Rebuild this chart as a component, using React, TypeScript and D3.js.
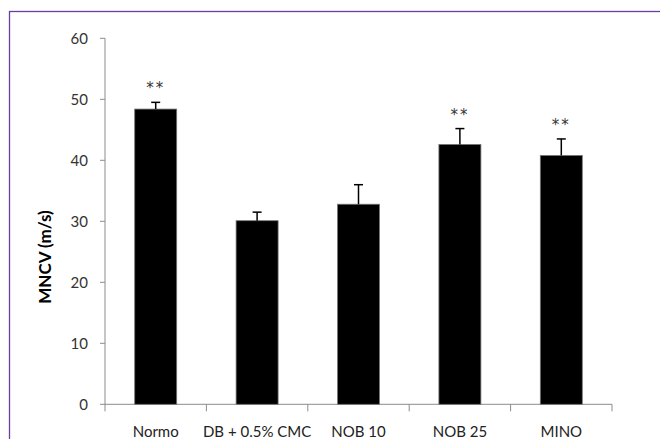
import React from "react";
import * as d3 from "d3";

const categories = ["Normo", "DB + 0.5% CMC", "NOB 10", "NOB 25", "MINO"];
const means = [48.4, 30.1, 32.8, 42.6, 40.8];
const errors = [1.1, 1.4, 3.2, 2.6, 2.7];
const significance = ["**", "", "", "**", "**"];
const yTicks = [0, 10, 20, 30, 40, 50, 60];

const W = 660;
const H = 439;
const left = 105;
const right = 612;
const top = 38.3;
const bottom = 404.3;
const font = "Lato, 'Open Sans', sans-serif";

export default function App() {
  const y = d3.scaleLinear().domain([0, 60]).range([bottom, top]);
  const band = d3.scaleBand<string>().domain(categories).range([left, right]);
  const axisColor = "#8c8c8c";
  return (
    <svg width={W} height={H} style={{ position: "absolute", left: 0, top: 0 }}>
      <rect x={0} y={0} width={W} height={H} fill="#fff" />
      <rect x={9.5} y={11.5} width={W + 20} height={H + 20} fill="none" stroke="#6a3fa0" strokeWidth={1.3} />
      {/* y axis */}
      <line x1={left} x2={left} y1={top} y2={bottom} stroke={axisColor} strokeWidth={1} />
      {yTicks.map((t) => (
        <g key={t}>
          <line x1={left - 5} x2={left} y1={y(t)} y2={y(t)} stroke={axisColor} />
          <text x={88} y={y(t)} dy="0.35em" textAnchor="end" fontFamily={font} fontSize={15} fill="#333">
            {t}
          </text>
        </g>
      ))}
      {/* x axis */}
      <line x1={left} x2={right} y1={bottom} y2={bottom} stroke={axisColor} />
      {[...categories.map((c) => band(c)!), right].map((px, i) => (
        <line key={i} x1={px} x2={px} y1={bottom} y2={bottom + 7} stroke={axisColor} />
      ))}
      {categories.map((c) => (
        <text key={c} x={band(c)! + band.bandwidth() / 2} y={437} textAnchor="middle" fontFamily={font} fontSize={15} fill="#222">
          {c}
        </text>
      ))}
      {/* bars */}
      {categories.map((c, i) => {
        const cx = band(c)! + band.bandwidth() / 2;
        const bw = 42;
        const yTop = y(means[i]);
        const yErr = y(means[i] + errors[i]);
        return (
          <g key={c}>
            <rect x={cx - bw / 2} y={yTop} width={bw} height={bottom - yTop} fill="#000" stroke="#777" strokeWidth={0.8} />
            <line x1={cx} x2={cx} y1={yTop} y2={yErr} stroke="#000" strokeWidth={1.5} />
            <line x1={cx - 4.5} x2={cx + 4.5} y1={yErr} y2={yErr} stroke="#000" strokeWidth={1.5} />
            {significance[i] && (
              <text x={cx} y={yErr - 9} textAnchor="middle" fontFamily="'DejaVu Sans', sans-serif" fontSize={15} fill="#333" letterSpacing={2}>
                {significance[i]}
              </text>
            )}
          </g>
        );
      })}
      <text
        transform={`translate(51, 257) rotate(-90)`}
        textAnchor="middle"
        fontFamily={font}
        fontWeight="bold"
        fontSize={17}
        fill="#000"
      >
        MNCV (m/s)
      </text>
    </svg>
  );
}
